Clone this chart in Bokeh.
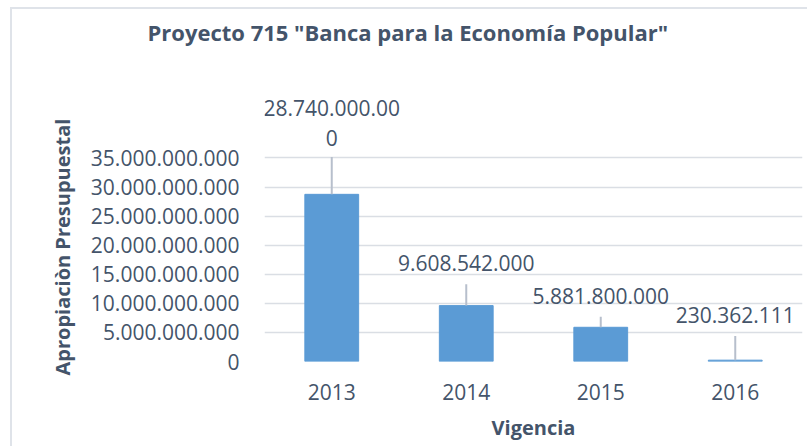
from bokeh.plotting import figure
from bokeh.models import FactorRange, Range1d, FixedTicker, Title, ColumnDataSource
from bokeh.core.properties import value
from bokeh.embed import file_html
from bokeh.resources import INLINE

# ---------------- data ----------------
years = ["2013", "2014", "2015", "2016"]
appropriation = [28740000000, 9608542000, 5881800000, 230362111]
y_ticks = [0, 5000000000, 10000000000, 15000000000, 20000000000,
           25000000000, 30000000000, 35000000000]
title_text = 'Proyecto 715 "Banca para la Economía Popular"'
y_title = "Apropiaciòn Presupuestal"
x_title = "Vigencia"

# ---------------- layout / style ----------------
W, H = 797, 439
BL, BR, BB = 252, 7, 87
TITLE_STANDOFF = 12
TITLE_BOX = 42.3                       # expected height of the title panel
FRAME_H = H - TITLE_BOX - BB
PX_PER_UNIT = 204.7 / 35e9
Y_END = FRAME_H / PX_PER_UNIT
leader_px = [37.6, 21.5, 10.7, 24.4]   # leader line length above each bar
TEXT = "#44546a"
FONT = "Open Sans"


def fmt(v):
    return f"{int(v):,}".replace(",", ".")


def wrap(s, n=13):
    return s if len(s) <= n else s[:n] + "\n" + s[n:]


labels = [wrap(fmt(v)) for v in appropriation]
lead_top = [v + lp / PX_PER_UNIT for v, lp in zip(appropriation, leader_px)]
label_y = [v + (lp + 21 + 13 * lab.count("\n")) / PX_PER_UNIT
           for v, lp, lab in zip(appropriation, leader_px, labels)]

src = ColumnDataSource(dict(x=years, top=appropriation, lab=labels,
                            ly=label_y, lt=lead_top))

p = figure(x_range=FactorRange(*years), y_range=Range1d(0, Y_END),
           width=W, height=H, output_backend="svg", toolbar_location=None,
           min_border_left=BL, min_border_right=BR,
           min_border_top=0, min_border_bottom=BB)
p.outline_line_color = None
p.background_fill_color = "white"
p.border_fill_color = "white"
p.styles = {"margin-left": "10px", "margin-top": "7px",
            "border-top": "2px solid #dfe3e9", "border-left": "2px solid #dfe3e9"}

p.title = Title(text=title_text, align="left", offset=-117,
                vertical_align="middle", standoff=TITLE_STANDOFF,
                text_font=FONT, text_font_style="bold",
                text_font_size="22px", text_color=TEXT)
p.add_layout(Title(text=y_title, align="left", offset=-14,
                   vertical_align="bottom", standoff=24,
                   text_font=FONT, text_font_style="bold",
                   text_font_size="20px", text_color=TEXT), "left")

p.vbar(x="x", top="top", width=0.4, source=src, color="#5b9bd5")
p.segment(x0="x", y0="top", x1="x", y1="lt", source=src,
          line_color="#b7bfcc", line_width=2)
p.text(x="x", y="ly", text="lab", source=src, text_align="center",
       text_baseline="middle", text_font=value(FONT), text_font_size="21px",
       text_color=TEXT, text_line_height=1.05)

# axes
tick = FixedTicker(ticks=y_ticks)
p.yaxis.ticker = tick
p.ygrid.ticker = tick
p.yaxis.major_label_overrides = {t: fmt(t) for t in y_ticks}
p.ygrid.grid_line_color = "#dadee4"
p.ygrid.grid_line_width = 1.5
p.xgrid.grid_line_color = None

for ax in (p.xaxis, p.yaxis):
    ax.axis_line_color = None
    ax.major_tick_line_color = None
    ax.minor_tick_line_color = None
    ax.major_tick_out = 0
    ax.major_tick_in = 0
    ax.minor_tick_out = 0
    ax.major_label_text_font = FONT
    ax.major_label_text_font_size = "21px"
    ax.major_label_text_color = TEXT

p.yaxis.major_label_standoff = 25
p.xaxis.major_label_standoff = 22
p.xaxis.axis_label = x_title
p.xaxis.axis_label_text_font = FONT
p.xaxis.axis_label_text_font_style = "bold"
p.xaxis.axis_label_text_font_size = "20px"
p.xaxis.axis_label_text_color = TEXT
p.xaxis.axis_label_standoff = 11

open("out.html", "w").write(file_html(p, INLINE))
